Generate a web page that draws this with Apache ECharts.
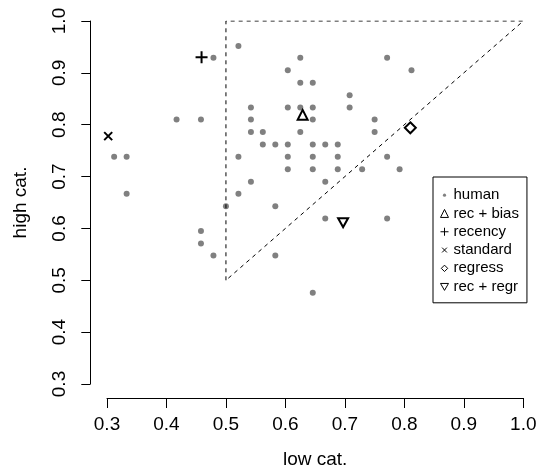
<!DOCTYPE html>
<html>
<head>
<meta charset="utf-8">
<script src="https://cdn.jsdelivr.net/npm/echarts@6/dist/echarts.min.js"></script>
<style>
  html, body { margin: 0; padding: 0; background: #fff; }
  #chart { width: 541px; height: 474px; }
</style>
</head>
<body>
<div id="chart"></div>
<script>
// axis range and ticks
const axisMin = 0.3
const axisMax = 1.0
const axisStep = 0.1

// human participants (low cat. / high cat.)
const humanLow = [
  0.521,
  0.479, 0.625, 0.771,
  0.604, 0.812,
  0.625, 0.646,
  0.708,
  0.542, 0.604, 0.625, 0.646, 0.708,
  0.417, 0.458, 0.542, 0.646, 0.750,
  0.542, 0.562, 0.625, 0.750,
  0.562, 0.583, 0.604, 0.646, 0.667, 0.688,
  0.312, 0.333, 0.521, 0.604, 0.646, 0.688, 0.771,
  0.604, 0.646, 0.688, 0.729, 0.792,
  0.542, 0.667,
  0.333, 0.521,
  0.500, 0.583,
  0.667, 0.771,
  0.458,
  0.458,
  0.479, 0.583,
  0.646
]
const humanHigh = [
  0.952,
  0.929, 0.929, 0.929,
  0.905, 0.905,
  0.881, 0.881,
  0.857,
  0.833, 0.833, 0.833, 0.833, 0.833,
  0.810, 0.810, 0.810, 0.810, 0.810,
  0.786, 0.786, 0.786, 0.786,
  0.762, 0.762, 0.762, 0.762, 0.762, 0.762,
  0.738, 0.738, 0.738, 0.738, 0.738, 0.738, 0.738,
  0.714, 0.714, 0.714, 0.714, 0.714,
  0.690, 0.690,
  0.667, 0.667,
  0.643, 0.643,
  0.619, 0.619,
  0.595,
  0.571,
  0.548, 0.548,
  0.476
]

// model predictions [low, high]
const recBias = [0.629, 0.819]
const recency = [0.459, 0.930]
const standard = [0.302, 0.778]
const regress = [0.810, 0.794]
const recRegr = [0.697, 0.611]

// dashed region outline
const regionLow = [0.5, 0.5, 1.0, 0.5]
const regionHigh = [0.5, 1.0, 1.0, 0.5]

const font = "'Liberation Sans', Arial, sans-serif"
const plusPath = 'path://M5,0L5,10M0,5L10,5'
const crossPath = 'path://M0,0L10,10M10,0L0,10'
const downTri = 'path://M0,0L10,0L5,8.66Z'
const smallDot = 'path://M0,0M10,10M5,3A2,2,0,1,1,5,7A2,2,0,1,1,5,3Z'

const open = w => ({ color: 'transparent', borderColor: '#000', borderWidth: w, opacity: 1 })

const chart = echarts.init(document.getElementById('chart'))
chart.setOption({
  animation: false,
  textStyle: { fontFamily: font },
  grid: { left: 107, right: 17.7, top: 21, bottom: 89 },
  xAxis: {
    type: 'value',
    min: axisMin,
    max: axisMax,
    interval: axisStep,
    offset: 14,
    name: 'low cat.',
    nameLocation: 'middle',
    nameGap: 52,
    nameTextStyle: { color: '#000', fontSize: 19, fontFamily: font },
    axisLine: { lineStyle: { color: '#000', width: 1 } },
    axisTick: { length: 10, lineStyle: { color: '#000' } },
    axisLabel: { color: '#000', fontSize: 19, margin: 17, formatter: v => v.toFixed(1) },
    splitLine: { show: false },
  },
  yAxis: {
    type: 'value',
    min: axisMin,
    max: axisMax,
    interval: axisStep,
    offset: 16.7,
    name: 'high cat.',
    nameLocation: 'middle',
    nameGap: 60,
    nameTextStyle: { color: '#000', fontSize: 19, fontFamily: font },
    axisLine: { show: true, lineStyle: { color: '#000', width: 1 } },
    axisTick: { show: true, length: 9, lineStyle: { color: '#000' } },
    axisLabel: {
      color: '#000', fontSize: 19, margin: 21, rotate: 90,
      align: 'center', verticalAlign: 'bottom',
      formatter: v => v.toFixed(1),
    },
    splitLine: { show: false },
  },
  legend: {
    orient: 'vertical',
    left: 433,
    top: 177,
    padding: [9, 8, 7, 7],
    borderColor: '#000',
    borderWidth: 1,
    borderRadius: 0,
    itemWidth: 8,
    itemHeight: 8,
    itemGap: 0,
    selectedMode: false,
    textStyle: { color: '#000', fontSize: 15, lineHeight: 18.3, fontFamily: font },
    data: [
      { name: 'human', icon: smallDot, itemStyle: { color: '#808080', borderWidth: 0, opacity: 1 } },
      { name: 'rec + bias', icon: 'triangle', itemStyle: open(1) },
      { name: 'recency', icon: plusPath, itemStyle: open(1) },
      { name: 'standard', icon: 'path://M0,0M10,10M2,2L8,8M8,2L2,8', itemStyle: open(1) },
      { name: 'regress', icon: 'path://M0,0M10,10M5,1L9,5L5,9L1,5Z', itemStyle: open(1) },
      { name: 'rec + regr', icon: 'path://M0,0M10,10M0,1L10,1L5,9.66Z', itemStyle: open(1) },
    ],
  },
  series: [
    {
      name: 'region',
      type: 'line',
      data: regionLow.map((x, i) => [x, regionHigh[i]]),
      symbol: 'none',
      silent: true,
      lineStyle: { color: '#000', width: 1, type: [4, 4] },
    },
    {
      name: 'human',
      type: 'scatter',
      data: humanLow.map((x, i) => [x, humanHigh[i]]),
      symbol: 'circle',
      symbolSize: 6,
      itemStyle: { color: '#808080', opacity: 1 },
    },
    {
      name: 'rec + bias',
      type: 'scatter',
      data: [recBias],
      symbol: 'triangle',
      symbolSize: 10,
      itemStyle: open(2),
    },
    {
      name: 'recency',
      type: 'scatter',
      data: [recency],
      symbol: plusPath,
      symbolSize: 12,
      itemStyle: open(2),
    },
    {
      name: 'standard',
      type: 'scatter',
      data: [standard],
      symbol: crossPath,
      symbolSize: 8,
      itemStyle: open(2),
    },
    {
      name: 'regress',
      type: 'scatter',
      data: [regress],
      symbol: 'diamond',
      symbolSize: 11,
      itemStyle: open(2),
    },
    {
      name: 'rec + regr',
      type: 'scatter',
      data: [recRegr],
      symbol: downTri,
      symbolSize: [10, 9],
      itemStyle: open(2),
    },
  ],
})
</script>
</body>
</html>
